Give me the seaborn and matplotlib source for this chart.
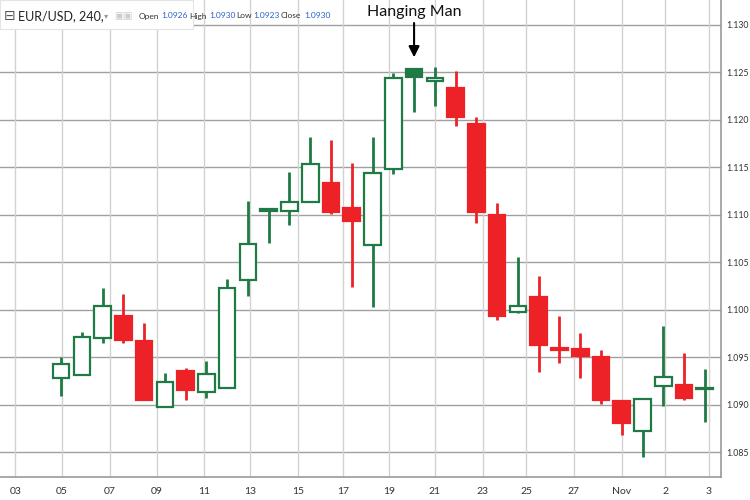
import numpy as np
import seaborn as sns
import matplotlib.pyplot as plt
from matplotlib.patches import Rectangle

# EUR/USD 240 candles
opens = [1.0928, 1.0931, 1.0970, 1.0993, 1.0967, 1.0897, 1.0935, 1.0913,
         1.0918, 1.1031, 1.1104, 1.1104, 1.1113, 1.1133, 1.1107, 1.1068,
         1.1148, 1.1245, 1.1241, 1.1234, 1.1196, 1.1100, 1.0998, 1.1013,
         1.0960, 1.0959, 1.0950, 1.0904, 1.0872, 1.0920, 1.0921, 1.0916]
closes = [1.0943, 1.0971, 1.1004, 1.0968, 1.0905, 1.0924, 1.0915, 1.0932,
          1.1023, 1.1069, 1.1106, 1.1113, 1.1153, 1.1103, 1.1093, 1.1144,
          1.1244, 1.1254, 1.1244, 1.1203, 1.1103, 1.0993, 1.1004, 1.0963,
          1.0957, 1.0951, 1.0905, 1.0881, 1.0906, 1.0929, 1.0907, 1.0917]
highs = [1.0950, 1.0976, 1.1023, 1.1017, 1.0986, 1.0933, 1.0939, 1.0946,
         1.1032, 1.1115, 1.1107, 1.1145, 1.1182, 1.1179, 1.1155, 1.1182,
         1.1249, 1.1254, 1.1256, 1.1252, 1.1203, 1.1112, 1.1056, 1.1035,
         1.0993, 1.0975, 1.0958, 1.0904, 1.0906, 1.0983, 1.0954, 1.0938]
lows = [1.0909, 1.0931, 1.0965, 1.0965, 1.0905, 1.0897, 1.0905, 1.0907,
        1.0918, 1.1014, 1.1070, 1.1089, 1.1113, 1.1101, 1.1024, 1.1003,
        1.1143, 1.1208, 1.1215, 1.1194, 1.1091, 1.0989, 1.0997, 1.0934,
        1.0944, 1.0928, 1.0901, 1.0868, 1.0845, 1.0899, 1.0905, 1.0882]

x_tick_pos = [-2.2, 0.05, 2.36, 4.6, 6.9, 9.1, 11.4, 13.6, 15.8, 18.0,
              20.3, 22.4, 24.7, 27.0, 29.1, 31.2]
x_tick_labels = ['03', '05', '07', '09', '11', '13', '15', '17', '19', '21',
                 '23', '25', '27', 'Nov', '2', '3']
y_ticks = [1.085, 1.090, 1.095, 1.100, 1.105, 1.110, 1.115, 1.120, 1.125, 1.130]

hanging_man = 17

GREEN = '#1f7a45'
RED = '#ec2227'

sns.set_style('white')
plt.rcParams['font.family'] = ['Lato', 'DejaVu Sans']

fig = plt.figure(figsize=(7.5, 5), dpi=100)
ax = fig.add_axes([0, 23 / 500, 721 / 750, 477 / 500])

x = np.arange(len(opens))
o = np.array(opens)
c = np.array(closes)
up = c >= o
edge = [GREEN if u else RED for u in up]
face = ['white' if u else RED for u in up]
face[hanging_man] = GREEN
bottom = np.minimum(o, c)
height = np.maximum(np.abs(c - o), 0.0001)

# grid
for yv in y_ticks:
    ax.axhline(yv, color='#a0a0a0', lw=1.0, zorder=0)
for xv in x_tick_pos:
    ax.axvline(xv, color='#d2d2d2', lw=1.0, zorder=0)

ax.vlines(x, lows, highs, colors=edge, lw=2, zorder=2)
ax.bar(x, height, bottom=bottom, width=0.8, color=face, edgecolor=edge,
       linewidth=1.6, zorder=3)

# annotation
ax.annotate('', xy=(hanging_man, 1.1263), xytext=(hanging_man, 1.1305),
            arrowprops=dict(arrowstyle='-|>', color='black', lw=1.5,
                            mutation_scale=16), zorder=5)
ax.text(hanging_man, 1.1314, 'Hanging Man', ha='center', va='center',
        fontsize=11.5, color='#111111', zorder=5)

ax.set_xlim(-2.94, 31.78)
ax.set_ylim(1.08237, 1.13263)
ax.set_xticks(x_tick_pos)
ax.set_xticklabels(x_tick_labels)
ax.set_yticks(y_ticks)
ax.set_yticklabels([f'{v:.3f}' for v in y_ticks])
ax.yaxis.tick_right()
ax.tick_params(axis='both', labelsize=7.5, colors='#333333', length=4,
               width=0.8, direction='out')
ax.tick_params(axis='y', pad=1, labelsize=6.3, length=3)
ax.tick_params(axis='x', pad=3)
for t in ax.get_xticklines() + ax.get_yticklines():
    t.set_color('#888888')

sns.despine(ax=ax, left=True, top=True, right=False, bottom=False)
for s in ('right', 'bottom'):
    ax.spines[s].set_color('#999999')
    ax.spines[s].set_linewidth(1.2)

# header box
fig.add_artist(Rectangle((0, 1 - 29 / 500), 193 / 750, 29 / 500,
                         transform=fig.transFigure, facecolor='white',
                         edgecolor='#e4e4e4', lw=0.8, zorder=1))
H = 500 - 16
fig.text(4 / 750, H / 500, '\u229f', fontsize=10, color='#555555',
         va='center', family=['DejaVu Sans'], zorder=2)
fig.text(18 / 750, H / 500, 'EUR/USD, 240,', fontsize=9, color='#222222',
         va='center', zorder=2)
fig.text(104 / 750, H / 500, '\u25be', fontsize=6, color='#999999',
         va='center', family=['DejaVu Sans'], zorder=2)
fig.text(114 / 750, H / 500, '\u25a3\u25a3', fontsize=7, color='#cccccc',
         va='center', family=['DejaVu Sans'], zorder=2)
header = [('Open', 139, '#333333'), ('1.0926', 161, '#2962c9'),
          ('High', 189, '#333333'), ('1.0930', 209, '#2962c9'),
          ('Low', 236, '#333333'), ('1.0923', 253, '#2962c9'),
          ('Close', 281, '#333333'), ('1.0930', 304, '#2962c9')]
for txt, px, col in header:
    fig.text(px / 750, H / 500, txt, fontsize=6, color=col, va='center',
             zorder=2)

fig.savefig('out.png', dpi=100)
